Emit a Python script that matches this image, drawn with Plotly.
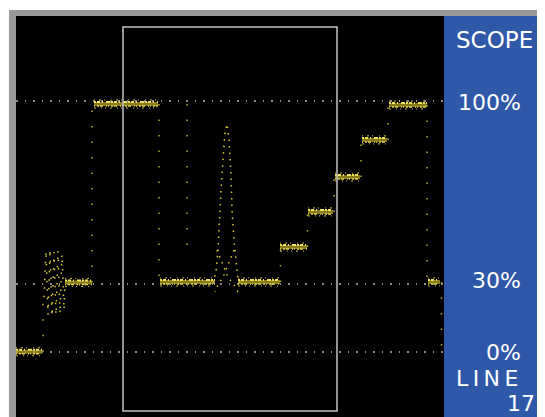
import plotly.graph_objects as go

# ---- data (x: time samples across the line, y: signal level in %) ----
level_starts = [0, 49, 78, 144, 222, 264, 292, 319, 346, 373, 412]
level_ends   = [26, 76, 142, 199, 264, 291, 317, 344, 371, 411, 424]
level_values = [0.3, 27.9, 99.0, 28.1, 28.1, 42.0, 56.0, 69.9, 84.7, 98.6, 28.1]

# transitions between levels (x, from level, to level)
edge_x    = [27, 76, 143, 171, 264.5, 291.5, 318, 345, 372, 411, 425.5]
edge_from = [0.3, 27.9, 99.0, 99.0, 28.1, 42.0, 56.0, 69.9, 84.7, 98.6, 28.1]
edge_to   = [24.0, 99.0, 28.1, 38.0, 42.0, 56.0, 69.9, 84.7, 98.6, 28.1, 0.0]

# colour burst (oscillation read as a zig-zag cloud)
burst_x = [28, 30, 32, 34, 36, 38, 40, 42, 44, 46, 48, 49]
burst_y = [22, 40.5, 15, 41, 14.5, 40, 15, 40.5, 15.5, 39, 17, 28]

# sine-squared / modulated pulse
pulse_x = [197, 200, 202, 203, 205, 207, 209, 211, 213, 215, 216, 218, 220, 222, 224]
pulse_y = [27.7, 32.1, 40.8, 50.8, 64.7, 76.7, 87.9, 91.0, 84.7, 70.7, 56.8, 44.8, 36.1, 28.9, 27.7]
ring_a_x = [201, 206, 212, 218, 222]
ring_a_y = [40.8, 36.0, 30.0, 27.0, 24.1]
ring_b_x = [218, 213, 207, 202, 199]
ring_b_y = [40.8, 36.0, 30.0, 27.0, 24.1]

grid_vals = [0, 27.3, 100]
grid_text = ["0%", "30%", "100%"]

panel_title = "SCOPE"
line_label = "L\u2009I\u2009N\u2009E"
line_number = "17"

YEL = "#d8cb3a"
YEL_DIM = "rgba(170,155,35,0.8)"

fig = go.Figure()

# flat levels: fuzzy band + brighter speckled cores
for xs, xe, v in zip(level_starts, level_ends, level_values):
    fig.add_trace(go.Scatter(x=[xs, xe], y=[v, v], mode="lines",
                             line=dict(color=YEL_DIM, width=4), hoverinfo="skip"))
    fig.add_trace(go.Scatter(x=[xs, xe], y=[v + 0.8, v + 0.8], mode="lines",
                             line=dict(color="#efe25a", width=2, dash="2px,1px,3px,2px,1px,3px,4px,1px"),
                             hoverinfo="skip"))
    fig.add_trace(go.Scatter(x=[xs, xe], y=[v - 0.8, v - 0.8], mode="lines",
                             line=dict(color="#e2d34a", width=1.5, dash="1px,2px,2px,1px,3px,3px,1px,1px"),
                             hoverinfo="skip"))
    fig.add_trace(go.Scatter(x=[xs, xe], y=[v + 1.6, v + 1.6], mode="lines",
                             line=dict(color="#cbbd38", width=1, dash="1px,4px,2px,3px,1px,6px"),
                             hoverinfo="skip"))
    fig.add_trace(go.Scatter(x=[xs, xe], y=[v - 1.6, v - 1.6], mode="lines",
                             line=dict(color="#cbbd38", width=1, dash="2px,5px,1px,3px,1px,4px"),
                             hoverinfo="skip"))

# sparse transition dots
for ex, a, b in zip(edge_x, edge_from, edge_to):
    fig.add_trace(go.Scatter(x=[ex, ex], y=[a, b], mode="lines",
                             line=dict(color="#b8aa30", width=1.5, dash="1.5px,14px"),
                             hoverinfo="skip"))

# burst
fig.add_trace(go.Scatter(x=burst_x, y=burst_y, mode="lines",
                         line=dict(color=YEL, width=1.5, dash="1.5px,7px"),
                         hoverinfo="skip"))
# pulse
fig.add_trace(go.Scatter(x=pulse_x, y=pulse_y, mode="lines",
                         line=dict(color=YEL, width=1.5, dash="1.5px,5px"),
                         hoverinfo="skip"))
for rx, ry in [(ring_a_x, ring_a_y), (ring_b_x, ring_b_y)]:
    fig.add_trace(go.Scatter(x=rx, y=ry, mode="lines",
                             line=dict(color=YEL, width=1.5, dash="1.5px,5px"),
                             hoverinfo="skip"))

OFF = 8  # page body margin
W, H = 545 - OFF, 417 - OFF
L, R, T, B = 8, 101, 8, 0
pw, ph = W - L - R, H - T - B

def px(sx):
    return (sx - OFF - L) / pw

def py(sy):
    return (H - B - (sy - OFF)) / ph

shapes = [
    # grey frame (top + left)
    dict(type="rect", xref="paper", yref="paper", x0=px(9), x1=px(560), y0=py(16), y1=py(10),
         fillcolor="#999999", line=dict(width=0), layer="above"),
    dict(type="rect", xref="paper", yref="paper", x0=px(9), x1=px(16), y0=py(430), y1=py(10),
         fillcolor="#999999", line=dict(width=0), layer="above"),
    # blue side panel
    dict(type="rect", xref="paper", yref="paper", x0=1.0, x1=px(560), y0=py(430), y1=1.0,
         fillcolor="#3058a8", line=dict(width=0), layer="above"),
    # selection box
    dict(type="rect", xref="x", yref="y", x0=107, x1=321, y0=-23.3, y1=129.7,
         fillcolor="rgba(0,0,0,0)", line=dict(color="#c4c4c4", width=1.5), layer="above"),
]

annotations = []
font = dict(family="DejaVu Sans", size=22, color="white")
label_shift = [0, 3, -1]
for v, t, s in zip(grid_vals, grid_text, label_shift):
    annotations.append(dict(xref="paper", yref="y", x=px(523), y=v, yshift=s, text=t,
                            showarrow=False, xanchor="right", yanchor="middle", font=font))
annotations.append(dict(xref="paper", yref="paper", x=px(454), y=py(40), text=panel_title,
                        showarrow=False, xanchor="left", yanchor="middle",
                        font=dict(family="DejaVu Sans", size=23, color="white")))
annotations.append(dict(xref="paper", yref="paper", x=px(454), y=py(378), text=line_label,
                        showarrow=False, xanchor="left", yanchor="middle", font=font))
annotations.append(dict(xref="paper", yref="paper", x=px(537), y=py(403), text=line_number,
                        showarrow=False, xanchor="right", yanchor="middle", font=font))

fig.update_layout(
    width=W, height=H,
    margin=dict(l=L, r=R, t=T, b=B, pad=0),
    paper_bgcolor="white", plot_bgcolor="black",
    showlegend=False,
    xaxis=dict(range=[0, 428], showgrid=False, zeroline=False, showticklabels=False,
               showline=False, ticks="", fixedrange=True),
    yaxis=dict(range=[-25.7, 134.06], tickvals=grid_vals, showticklabels=False,
               showgrid=True, gridcolor="#8a8a8a", gridwidth=1.5, griddash="1.5px,7px",
               zeroline=False, showline=False, ticks="", fixedrange=True),
    shapes=shapes,
    annotations=annotations,
)

fig.write_html(
    "out.html",
    config={"displayModeBar": False},
    post_script="document.documentElement.style.overflow='hidden';document.body.style.overflow='hidden';",
)
